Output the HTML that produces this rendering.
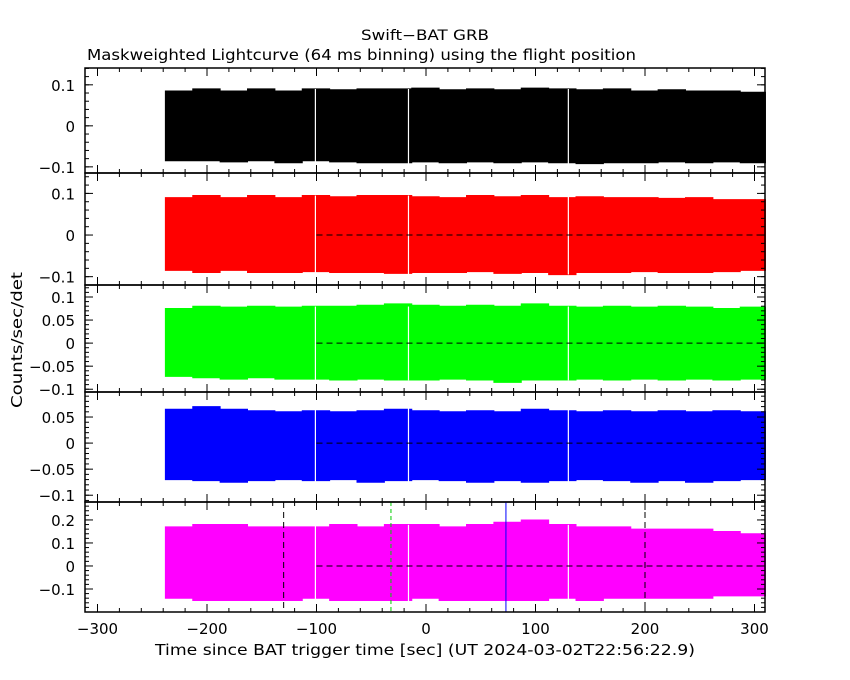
<!DOCTYPE html>
<html><head><meta charset="utf-8"><style>
body{margin:0;background:#fff}
svg{display:block;font-family:"DejaVu Sans","Liberation Sans",sans-serif}
</style></head><body>
<svg id="chart" width="850" height="680" viewBox="0 0 850 680" xmlns="http://www.w3.org/2000/svg">
<text x="425" y="40" font-size="14" text-anchor="middle" textLength="128" lengthAdjust="spacingAndGlyphs">Swift−BAT GRB</text>
<text x="87" y="60" font-size="15" textLength="549" lengthAdjust="spacingAndGlyphs">Maskweighted Lightcurve (64 ms binning) using the flight position</text>
<text x="0" y="0" font-size="15" text-anchor="middle" textLength="136" lengthAdjust="spacingAndGlyphs" transform="translate(22,340) rotate(-90)">Counts/sec/det</text>
<text x="425" y="655" font-size="15" text-anchor="middle" textLength="540" lengthAdjust="spacingAndGlyphs">Time since BAT trigger time [sec] (UT 2024-03-02T22:56:22.9)</text>
<g id="plots"></g>
</svg>
<script>
// bin start times (25 s bins)
const binStarts = [-238,-213,-188,-163,-138,-113,-88,-63,-38,-13,12,37,62,87,112,137,162,187,212,237,262,287];
const hi1 = [0.085,0.09,0.085,0.09,0.085,0.09,0.088,0.09,0.09,0.092,0.088,0.09,0.088,0.092,0.09,0.088,0.09,0.085,0.088,0.085,0.085,0.082];
const lo1 = [-0.085,-0.085,-0.088,-0.085,-0.09,-0.085,-0.088,-0.09,-0.09,-0.088,-0.09,-0.088,-0.09,-0.088,-0.09,-0.092,-0.09,-0.09,-0.088,-0.09,-0.088,-0.09];
const hi2 = [0.09,0.095,0.09,0.095,0.09,0.095,0.092,0.095,0.095,0.092,0.09,0.095,0.092,0.095,0.09,0.092,0.09,0.09,0.088,0.09,0.085,0.085];
const lo2 = [-0.085,-0.09,-0.085,-0.09,-0.09,-0.088,-0.09,-0.09,-0.092,-0.09,-0.09,-0.088,-0.092,-0.09,-0.095,-0.09,-0.09,-0.088,-0.09,-0.09,-0.088,-0.085];
const hi3 = [0.075,0.08,0.078,0.08,0.078,0.08,0.08,0.082,0.085,0.082,0.08,0.082,0.08,0.085,0.08,0.078,0.08,0.078,0.08,0.078,0.075,0.078];
const lo3 = [-0.072,-0.075,-0.078,-0.075,-0.078,-0.078,-0.08,-0.078,-0.08,-0.08,-0.078,-0.08,-0.085,-0.08,-0.08,-0.078,-0.08,-0.078,-0.08,-0.078,-0.08,-0.078];
const hi4 = [0.065,0.07,0.065,0.062,0.06,0.062,0.06,0.062,0.065,0.062,0.06,0.062,0.06,0.065,0.062,0.06,0.062,0.06,0.062,0.06,0.062,0.06];
const lo4 = [-0.07,-0.072,-0.075,-0.072,-0.07,-0.072,-0.07,-0.075,-0.072,-0.07,-0.072,-0.075,-0.072,-0.075,-0.072,-0.07,-0.072,-0.075,-0.072,-0.075,-0.072,-0.07];
const hi5 = [0.17,0.18,0.18,0.17,0.17,0.17,0.18,0.17,0.18,0.18,0.17,0.18,0.19,0.2,0.18,0.17,0.17,0.16,0.16,0.16,0.15,0.14];
const lo5 = [-0.14,-0.15,-0.15,-0.15,-0.15,-0.14,-0.15,-0.15,-0.15,-0.14,-0.15,-0.15,-0.15,-0.15,-0.14,-0.15,-0.14,-0.14,-0.14,-0.14,-0.13,-0.13];
const gapTimes = [-101,-16,130];
const xTicks = [-300,-200,-100,0,100,200,300];

const panels = [
 {name:'band-1',top:68,bot:173,ymax:0.141,ymin:-0.115,hi:hi1,lo:lo1,color:'#000',ticks:[0.1,0,-0.1],labels:['0.1','0','−0.1'],minor:0.02,dash:false},
 {name:'band-2',top:173,bot:285,ymax:0.149,ymin:-0.12,hi:hi2,lo:lo2,color:'#f00',ticks:[0.1,0,-0.1],labels:['0.1','0','−0.1'],minor:0.02,dash:true},
 {name:'band-3',top:285,bot:392,ymax:0.126,ymin:-0.106,hi:hi3,lo:lo3,color:'#0f0',ticks:[0.1,0.05,0,-0.05,-0.1],labels:['0.1','0.05','0','−0.05','−0.1'],minor:0.01,dash:true},
 {name:'band-4',top:392,bot:502,ymax:0.098,ymin:-0.113,hi:hi4,lo:lo4,color:'#00f',ticks:[0.05,0,-0.05,-0.1],labels:['0.05','0','−0.05','−0.1'],minor:0.01,dash:true},
 {name:'band-5',top:502,bot:612,ymax:0.278,ymin:-0.2,hi:hi5,lo:lo5,color:'#f0f',ticks:[0.2,0.1,0,-0.1],labels:['0.2','0.1','0','−0.1'],minor:0.02,dash:true}
];
const X0=85,X1=765;
function xs(t){return 426+t*1.095;}
const NS='http://www.w3.org/2000/svg';
const g=document.getElementById('plots');
function mk(tag,attrs,parent){const e=document.createElementNS(NS,tag);for(const k in attrs)e.setAttribute(k,attrs[k]);(parent||g).appendChild(e);return e;}

panels.forEach((p,pi)=>{
  const ys=v=>p.top+(p.ymax-v)/(p.ymax-p.ymin)*(p.bot-p.top);
  const grp=mk('g',{});
  
  
  let d='';
  for(let i=0;i<binStarts.length;i++){
    const t0=Math.max(binStarts[i],-238), t1=Math.min(binStarts[i]+25,310);
    d+=`M${xs(t0)},${ys(p.hi[i])}H${xs(t1)}V${ys(p.lo[i])}H${xs(t0)}Z`;
  }
  const band=mk('path',{d:d,fill:p.color,stroke:p.color,'stroke-width':1},grp);
  
  
  gapTimes.forEach(t=>{mk('line',{x1:xs(t),x2:xs(t),y1:ys(p.hi[0])-2,y2:ys(p.lo[0])+4,stroke:'#fff','stroke-width':1.2},grp);});
  if(p.dash){
    const dl=mk('line',{x1:xs(-100),x2:X1,y1:ys(0),y2:ys(0),stroke:'#000','stroke-dasharray':'6,4','stroke-width':1},grp);
    
    
  }
  if(pi===4){
    [[-130,'#000','6,4'],[-32,'#0c0','4,3'],[73,'#00f',''],[200,'#000','6,4']].forEach(v=>{
      const l=mk('line',{x1:xs(v[0]),x2:xs(v[0]),y1:p.top,y2:p.bot,stroke:v[1],'stroke-dasharray':v[2],'stroke-width':1},grp);
      
      
    });
  }
  mk('rect',{x:X0,y:p.top,width:X1-X0,height:p.bot-p.top,fill:'none',stroke:'#000','stroke-width':1.5},grp);
  for(let t=-300;t<=300;t+=20){
    const L=(t%100===0)?8:4,x=xs(t);
    mk('line',{x1:x,x2:x,y1:p.top,y2:p.top+L,stroke:'#000'},grp);
    mk('line',{x1:x,x2:x,y1:p.bot,y2:p.bot-L,stroke:'#000'},grp);
  }
  for(let v=Math.ceil(p.ymin/p.minor)*p.minor;v<=p.ymax;v+=p.minor){
    const y=ys(v);
    mk('line',{x1:X0,x2:X0+4,y1:y,y2:y,stroke:'#000'},grp);
    mk('line',{x1:X1,x2:X1-4,y1:y,y2:y,stroke:'#000'},grp);
  }
  p.ticks.forEach((v,i)=>{
    const y=ys(v);
    mk('line',{x1:X0,x2:X0+8,y1:y,y2:y,stroke:'#000'},grp);
    mk('line',{x1:X1,x2:X1-8,y1:y,y2:y,stroke:'#000'},grp);
    const tx=mk('text',{x:X0-10,y:y+6,'font-size':15,'text-anchor':'end'},grp);
    tx.textContent=p.labels[i];
    
    
  });
});
xTicks.forEach(t=>{
  const tx=mk('text',{x:xs(t),y:634,'font-size':15,'text-anchor':'middle'});
  tx.textContent=(t<0?'−'+(-t):String(t));
  
  
});
</script>
</body></html>
